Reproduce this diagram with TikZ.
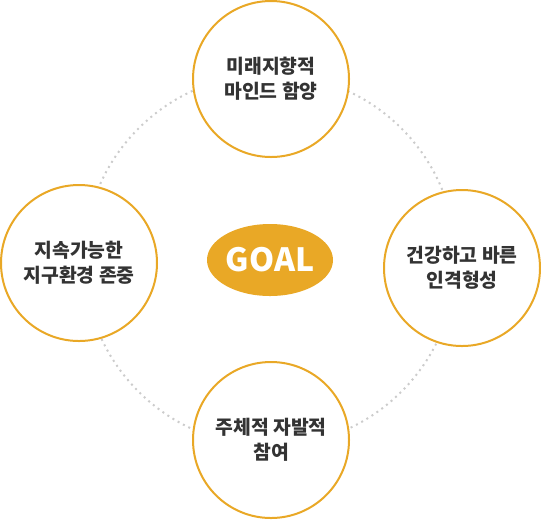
\documentclass[tikz,border=0pt]{standalone}
\usepackage{fontspec}
\setmainfont{Noto Sans CJK KR}
\usetikzlibrary{shapes.geometric}
\definecolor{goalorange}{HTML}{E9A826}
\definecolor{textgray}{HTML}{333333}
\begin{document}
\begin{tikzpicture}[x=0.75pt,y=-0.75pt,
aim/.style={circle,draw=goalorange,line width=1.5pt,fill=white,minimum size=117pt,inner sep=0pt,align=center,text=textgray,font=\bfseries\fontsize{14.5pt}{18.5pt}\selectfont},
goal/.style={ellipse,fill=goalorange,minimum width=94.5pt,minimum height=54pt,inner sep=0pt,text=white,font=\bfseries\fontsize{24pt}{30pt}\selectfont},
ring/.style={draw=black!20,line width=1.5pt,dash pattern=on 1.5pt off 3pt}]

\useasboundingbox (0,0) rectangle (541,519);
\node[goal] (0) at (270,260) {GOAL};
\draw[ring] (0.center) circle (139.5pt);
\node[aim] (1) at (271,79) {미래지향적\\마인드 함양};
\node[aim] (2) at (462,268) {건강하고 바른\\인격형성};
\node[aim] (3) at (271,440) {주체적 자발적\\참여};
\node[aim] (4) at (79,263) {지속가능한\\지구환경 존중};
\end{tikzpicture}
\end{document}
